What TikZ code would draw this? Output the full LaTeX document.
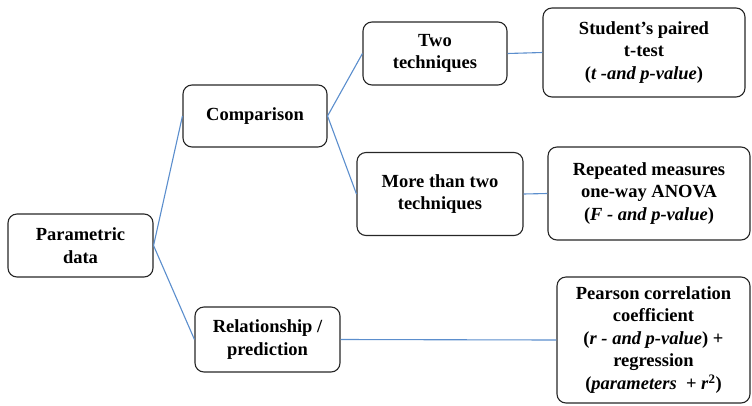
\documentclass[tikz,border=0pt]{standalone}
\usepackage{fontspec}
\setmainfont{Liberation Serif}
\usepackage{tikz}
\usetikzlibrary{positioning,calc}
\definecolor{linkblue}{RGB}{91,142,205}

\begin{document}
\begin{tikzpicture}[
    x=1pt, y=-1pt,
    block/.style = {rectangle, draw=black!85, line width=1.1pt, rounded corners=9pt, align=center, inner sep=0pt, font=\fontsize{18.5}{22.5}\selectfont\bfseries},
    line/.style = {draw, linkblue, line width=1.1pt}
]
    \useasboundingbox (0,0) rectangle (752,405);
    % Nodes
    \node [block, minimum width=145pt, minimum height=63pt] (param) at (80.5,245.5) {Parametric\\data};
    \node [block, minimum width=144pt, minimum height=62pt] (comp) at (255,116) {Comparison};
    \node [block, minimum width=145pt, minimum height=65pt] (rel) at (267.5,339.5) {Relationship /\\prediction};

    \node [block, minimum width=144pt, minimum height=63pt] (two) at (435,53.5) {Two\\techniques};
    \node [block, minimum width=166pt, minimum height=83pt] (more) at (440,194) {More than two\\techniques};

    \node [block, minimum width=202pt, minimum height=89pt] (ttest) at (644,52.5) {Student’s paired\\t-test\\(\textit{t -and p-value})};
    \node [block, minimum width=202pt, minimum height=93pt] (anova) at (649,193.5) {Repeated measures\\one-way ANOVA\\(\textit{F - and p-value})};
    \node [block, minimum width=193pt, minimum height=126pt] (pearson) at (653.5,340) {Pearson correlation\\coefficient\\(\textit{r - and p-value}) +\\regression\\(\textit{parameters} \ + \textit{r}\textsuperscript{2})};

    % Edges
    \path [line] (param.east) -- (comp.west);
    \path [line] (param.east) -- (rel.west);

    \path [line] (comp.east) -- (two.west);
    \path [line] (comp.east) -- (more.west);

    \path [line] (two.east) -- (ttest.west);
    \path [line] (more.east) -- (anova.west);
    \path [line] (rel.east) -- (pearson.west);

\end{tikzpicture}
\end{document}
